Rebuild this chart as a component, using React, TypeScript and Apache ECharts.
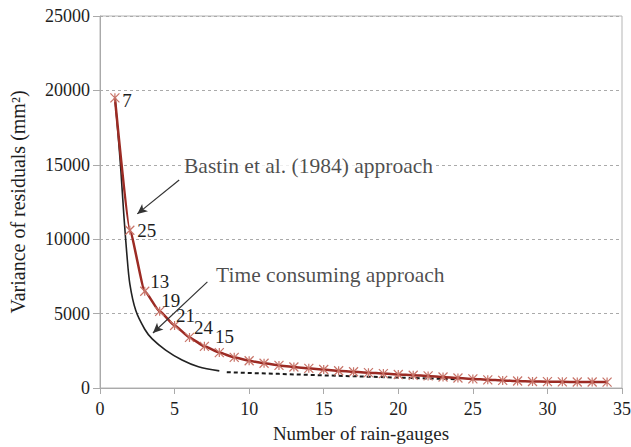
import React, { useEffect, useRef } from "react";
import * as echarts from "echarts";

const gauges = [1, 2, 3, 4, 5, 6, 7, 8, 9, 10, 11, 12, 13, 14, 15, 16, 17, 18, 19, 20, 21, 22, 23, 24, 25, 26, 27, 28, 29, 30, 31, 32, 33, 34];
const bastinVar = [19500, 10600, 6500, 5150, 4200, 3400, 2800, 2380, 2060, 1830, 1660, 1520, 1410, 1320, 1240, 1160, 1090, 1030, 970, 910, 860, 810, 740, 670, 610, 550, 510, 470, 440, 425, 415, 405, 400, 395];
const pointLabels = ["7", "25", "13", "19", "21", "24", "15"];
const labelOffsets = [[12, 3], [17, 0], [15, -10], [11, -11], [11, -10], [14, -10], [20, -10]];

const timeX = [1, 1.2, 1.4, 1.6, 1.8, 2, 2.4, 3, 3.5, 4.4, 5.5, 6.6, 8];
const timeVar = [19500, 17200, 14600, 11600, 9000, 7000, 5200, 3950, 3300, 2550, 1880, 1430, 1150];
const timeDashX = [8.5, 10, 12, 14, 16, 18, 20, 22, 24];
const timeDashVar = [1060, 1010, 950, 880, 820, 760, 700, 640, 590];

const xTicks = { min: 0, max: 35, interval: 5 };
const yTicks = { min: 0, max: 25000, interval: 5000 };

const notes = [
  { text: "Bastin et al. (1984) approach", at: [5.5, 14900], from: [5.31, 13980], to: [2.5, 11700] },
  { text: "Time consuming approach", at: [7.65, 7600], from: [7.2, 7130], to: [3.55, 3700] },
];

const FONT = "Liberation Serif";
const TXT = "#1e1e1e";

export default function App() {
  const ref = useRef<HTMLDivElement>(null);
  useEffect(() => {
    const chart = echarts.init(ref.current!, null, { renderer: "svg" });
    const redData = gauges.map((g, i) => {
      const item: any = { value: [g, bastinVar[i]] };
      if (i < pointLabels.length) {
        item.label = {
          show: true,
          formatter: pointLabels[i],
          position: "inside",
          offset: labelOffsets[i],
        };
      }
      return item;
    });
    chart.setOption({
      animation: false,
      textStyle: { fontFamily: FONT },
      grid: {
        left: 100, right: 9, top: 16, bottom: 59, show: true, borderColor: "#b5b5b5", borderWidth: 1,
        outerBoundsMode: "none", containLabel: false,
      },
      xAxis: {
        type: "value",
        ...xTicks,
        name: "Number of rain-gauges",
        nameLocation: "middle",
        nameGap: 36,
        nameTextStyle: { fontFamily: FONT, fontSize: 19, color: TXT },
        axisLine: { show: true, lineStyle: { color: "#aaa" } },
        axisTick: { show: true, inside: false, length: 6, lineStyle: { color: "#aaa" } },
        axisLabel: { fontFamily: FONT, fontSize: 18, color: TXT, margin: 12 },
        splitLine: { show: false },
      },
      yAxis: {
        type: "value",
        ...yTicks,
        name: "Variance of residuals (mm²)",
        nameLocation: "middle",
        nameGap: 72,
        nameTextStyle: { fontFamily: FONT, fontSize: 20, color: TXT },
        axisLine: { show: true, lineStyle: { color: "#aaa" } },
        axisTick: { show: true, inside: false, length: 7, lineStyle: { color: "#aaa" } },
        axisLabel: { fontFamily: FONT, fontSize: 18, color: TXT, margin: 10, formatter: (v: number) => String(v) },
        splitLine: { show: true, lineStyle: { color: "#aaa", type: [3, 3] } },
      },
      series: [
        {
          type: "line",
          data: timeX.map((x, i) => [x, timeVar[i]]),
          showSymbol: false,
          smooth: 0.3,
          lineStyle: { color: "#222", width: 1.6 },
          z: 2,
        },
        {
          type: "line",
          data: timeDashX.map((x, i) => [x, timeDashVar[i]]),
          showSymbol: false,
          lineStyle: { color: "#1a1a1a", width: 2, type: [4, 3] },
          z: 2,
        },
        {
          type: "line",
          data: redData,
          smooth: 0.15,
          smoothMonotone: "x",
          symbol: "path://M0,0L10,10M10,0L0,10M5,0L5,10",
          symbolSize: 9,
          itemStyle: { color: "transparent", borderColor: "#c87469", borderWidth: 1.2 },
          lineStyle: { color: "#9c2b24", width: 2.5 },
          label: { fontFamily: FONT, fontSize: 19, color: TXT },
          z: 3,
          markLine: {
            silent: true,
            symbol: ["none", "arrow"],
            symbolSize: [7, 10],
            label: { show: false },
            lineStyle: { color: "#333", width: 1.2, type: "solid" },
            data: notes.map((n) => [{ coord: n.from }, { coord: n.to }]),
          },
        },
        {
          type: "scatter",
          symbolSize: 0,
          data: notes.map((n) => ({ value: n.at, name: n.text })),
          label: {
            show: true,
            position: "right",
            distance: 0,
            formatter: (p: any) => p.name,
            fontFamily: FONT,
            fontSize: 21.5,
            color: TXT,
            backgroundColor: "#fff",
            padding: [0, 2],
          },
          z: 5,
        },
      ],
    });
    return () => chart.dispose();
  }, []);
  return <div ref={ref} style={{ position: "absolute", left: 0, top: 0, width: 631, height: 447 }} />;
}
